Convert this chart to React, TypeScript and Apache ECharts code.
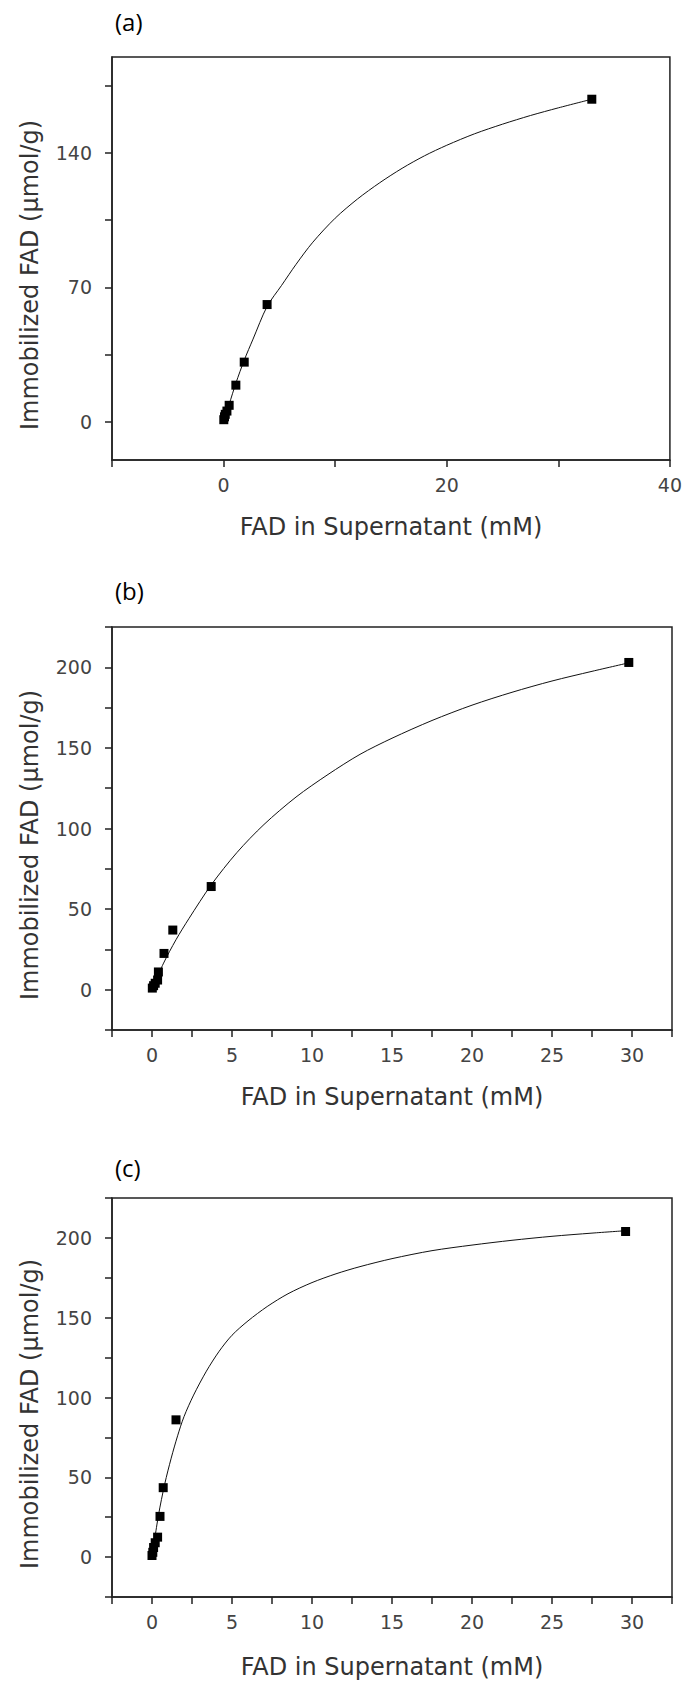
import React, { useEffect, useRef } from "react";
import * as echarts from "echarts";

// ---------- data ----------
// Panel (a)
const aPointsX = [0.02, 0.08, 0.15, 0.3, 0.5, 1.1, 1.85, 3.9, 33.0];
const aPointsY = [1, 2.5, 3.8, 5.5, 8.5, 19, 31, 61, 168];
const aCurveX = [0, 0.5, 1.1, 1.85, 2.64, 3.9, 5.2, 6.5, 8.0, 10.0, 12.0, 14.0, 16.0, 18.0, 20.0, 22.5, 25.0, 27.5, 30.0, 33.0];
const aCurveY = [0, 9, 20, 32, 43, 60, 71, 82, 93.5, 106, 116, 124.5, 132, 138.5, 144, 150, 155, 159.5, 163.5, 168];

// Panel (b)
const bPointsX = [0.02, 0.1, 0.2, 0.35, 0.4, 0.75, 1.3, 3.7, 29.8];
const bPointsY = [1, 2.5, 4, 6, 11, 22.5, 37, 64, 203];
const bCurveX = [0, 0.7, 1.5, 2.3, 3.7, 5.3, 7.0, 9.0, 11.0, 13.0, 15.0, 17.5, 20.0, 22.5, 25.0, 27.5, 29.9];
const bCurveY = [0, 16, 31, 44, 65, 85, 102.5, 119.5, 133.5, 146, 156, 167, 176.5, 184.5, 191.5, 197.5, 203];

// Panel (c)
const cPointsX = [0.0, 0.05, 0.1, 0.2, 0.35, 0.5, 0.7, 1.5, 29.6];
const cPointsY = [1, 3, 6, 9, 12.5, 25.5, 43.5, 86, 204];
const cCurveX = [0, 0.4, 0.8, 1.2, 1.6, 2.0, 2.6, 3.4, 4.2, 5.0, 6.0, 7.2, 8.5, 10, 11.5, 13, 15, 17.5, 20, 22.5, 25, 27.5, 29.6];
const cCurveY = [0, 26, 46, 62, 76, 88, 101.5, 116.5, 129, 139, 148, 157, 165, 172, 177.5, 182, 187, 192, 195.5, 198.5, 201, 203, 204.5];

// Axis ticks / labels
const aXTicks = [-10, 0, 10, 20, 30, 40];
const aXLabels = [0, 20, 40];
const aYTicks = [0, 35, 70, 105, 140, 175];
const aYLabels = [0, 70, 140];
const bcXLabels = [0, 5, 10, 15, 20, 25, 30];
const bcYLabels = [0, 50, 100, 150, 200];

const panelLabels = ["(a)", "(b)", "(c)"];
const xTitle = "FAD in Supernatant (mM)";
const yTitle = "Immobilized FAD (\u03bcmol/g)";

const zip = (xs: number[], ys: number[]) => xs.map((x, i) => [x, ys[i]]);

export default function App() {
  const ref = useRef<HTMLDivElement>(null);

  useEffect(() => {
    if (!ref.current) return;
    const chart = echarts.init(ref.current, undefined, { renderer: "svg" });

    const axisColor = "#222";
    const tickFont = { fontFamily: "DejaVu Sans", fontSize: 19, color: "#444" };
    const nameFont = { fontFamily: "DejaVu Sans", fontSize: 24, color: "#333" };

    const grids = [
      { left: 112, top: 57, width: 560, height: 403 },
      { left: 112, top: 627, width: 560, height: 403 },
      { left: 112, top: 1198, width: 560, height: 399 },
    ].map((g) => ({ ...g, show: true, borderColor: axisColor, borderWidth: 1.5, backgroundColor: "transparent" }));

    const xNameGaps = [55, 55, 58];

    const xAxis = [0, 1, 2].map((i) => {
      const isA = i === 0;
      return {
        type: "value",
        gridIndex: i,
        min: isA ? -10 : -2.5,
        max: isA ? 40 : 32.5,
        interval: isA ? 10 : 2.5,
        splitLine: { show: false },
        axisLine: { show: true, onZero: false, lineStyle: { color: axisColor, width: 1.5 } },
        axisTick: isA
          ? { show: true, inside: false, length: 7, customValues: aXTicks, lineStyle: { color: axisColor, width: 1.5 } }
          : { show: true, inside: false, length: 7, lineStyle: { color: axisColor, width: 1.5 } },
        axisLabel: { ...tickFont, margin: 15, customValues: isA ? aXLabels : bcXLabels },
        name: xTitle,
        nameLocation: "middle",
        nameGap: xNameGaps[i],
        nameTextStyle: nameFont,
      };
    });

    const yAxis = [0, 1, 2].map((i) => {
      const isA = i === 0;
      return {
        type: "value",
        gridIndex: i,
        min: isA ? -20 : -25,
        max: isA ? 190 : 225,
        interval: isA ? 35 : 25,
        splitLine: { show: false },
        axisLine: { show: true, onZero: false, lineStyle: { color: axisColor, width: 1.5 } },
        axisTick: isA
          ? { show: true, inside: false, length: 7, customValues: aYTicks, lineStyle: { color: axisColor, width: 1.5 } }
          : { show: true, inside: false, length: 7, lineStyle: { color: axisColor, width: 1.5 } },
        axisLabel: { ...tickFont, margin: 20, customValues: isA ? aYLabels : bcYLabels },
        name: yTitle,
        nameLocation: "middle",
        nameGap: 70,
        nameTextStyle: { ...nameFont, padding: [0, 33, 0, 0] },
      };
    });

    const curves = [zip(aCurveX, aCurveY), zip(bCurveX, bCurveY), zip(cCurveX, cCurveY)];
    const points = [zip(aPointsX, aPointsY), zip(bPointsX, bPointsY), zip(cPointsX, cPointsY)];

    const series: any[] = [];
    [0, 1, 2].forEach((i) => {
      series.push({
        type: "line",
        xAxisIndex: i,
        yAxisIndex: i,
        data: curves[i],
        showSymbol: false,
        smooth: 0.3,
        lineStyle: { color: "#111", width: 1 },
        z: 2,
      });
      series.push({
        type: "scatter",
        xAxisIndex: i,
        yAxisIndex: i,
        data: points[i],
        symbol: "rect",
        symbolSize: 9,
        itemStyle: { color: "#000", opacity: 1 },
        z: 3,
      });
    });

    const labelY = [25, 594, 1171];
    const graphic = panelLabels.map((t, i) => ({
      type: "text",
      left: 115,
      top: labelY[i] - 16,
      style: { text: t, fontFamily: "Open Sans", fontSize: 24, fill: "#000" },
    }));

    chart.setOption({
      animation: false,
      backgroundColor: "#fff",
      grid: grids,
      xAxis,
      yAxis,
      series,
      graphic,
    });

    return () => chart.dispose();
  }, []);

  return (
    <div
      ref={ref}
      style={{ position: "absolute", left: 0, top: 0, width: 685, height: 1686, background: "#fff" }}
    />
  );
}
